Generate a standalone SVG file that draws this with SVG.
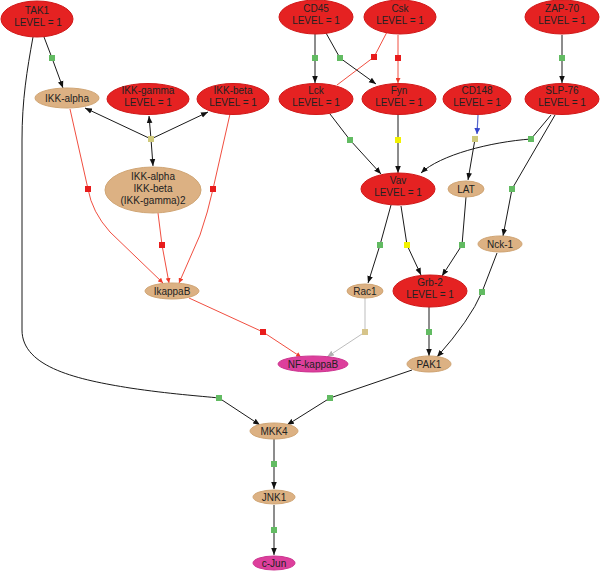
<svg xmlns="http://www.w3.org/2000/svg" width="600" height="571" viewBox="0 0 600 571">
<style>
.red{fill:#e52222;stroke:#d01818;stroke-width:1}
.tan{fill:#dcb183;stroke:#d0a574;stroke-width:1}
.mag{fill:#dd3f9c;stroke:#cc3590;stroke-width:1}
text{font-family:"Liberation Sans",Arial,sans-serif;font-size:10px;fill:#222;text-anchor:middle}
.e{fill:none;stroke:#1a1a1a;stroke-width:1}
.er{fill:none;stroke:#ee3a2a;stroke-width:0.9}
.eg{fill:none;stroke:#bdbdbd;stroke-width:1}
.eb{fill:none;stroke:#5566cc;stroke-width:1.2}
.sg{fill:#62bb62}
.sr{fill:#e81c1c}
.sy{fill:#f2f200}
.so{fill:#cfc97a}
.st{fill:#d6c48a}
</style>
<defs>
<marker id="ab" viewBox="0 0 10 10" refX="10" refY="5" markerWidth="7" markerHeight="7" orient="auto" markerUnits="userSpaceOnUse"><path d="M0,1 L10,5 L0,9 z" fill="#111"/></marker>
<marker id="ar" viewBox="0 0 10 10" refX="10" refY="5" markerWidth="5" markerHeight="5" orient="auto" markerUnits="userSpaceOnUse"><path d="M0,0 L10,5 L0,10 z" fill="#ee3a2a"/></marker>
<marker id="ag" viewBox="0 0 10 10" refX="10" refY="5" markerWidth="7" markerHeight="7" orient="auto" markerUnits="userSpaceOnUse"><path d="M0,1 L10,5 L0,9 z" fill="#b0b0b0"/></marker>
<marker id="abl" viewBox="0 0 10 10" refX="10" refY="5" markerWidth="6" markerHeight="6" orient="auto" markerUnits="userSpaceOnUse"><path d="M0,0 L10,5 L0,10 z" fill="#3344cc"/></marker>
</defs>
<g id="connectors">
<path class="e" d="M44,37 L52,58 L63,88" marker-end="url(#ab)"/>
<path class="e" d="M33,37 C27,70 22,100 22,140 L22,330 C22,368 80,380 130,388 C170,394 200,396 219,398 L260,425" marker-end="url(#ab)"/>
<path class="e" d="M151,139 L85,108" marker-end="url(#ab)"/>
<path class="e" d="M151,139 L149,116" marker-end="url(#ab)"/>
<path class="e" d="M151,139 L208,112" marker-end="url(#ab)"/>
<path class="e" d="M151,139 L153,166" marker-end="url(#ab)"/>
<path class="er" d="M70,109 L88,189 Q92,212 110,232 L163,283" marker-end="url(#ar)"/>
<path class="er" d="M158,213 L162,245 L169,283" marker-end="url(#ar)"/>
<path class="er" d="M230,114 L213,189 Q208,212 200,235 L179,283" marker-end="url(#ar)"/>
<path class="er" d="M189,298 L263,332 L301,357" marker-end="url(#ar)"/>
<path class="er" d="M387,32 L374,57 L337,85"/>
<path class="er" d="M398,35 L398,58 L398,83" marker-end="url(#ar)"/>
<path class="e" d="M315,34 L315,58 L315,83" marker-end="url(#ab)"/>
<path class="e" d="M326,33 L340,58 L376,84" marker-end="url(#ab)"/>
<path class="e" d="M562,35 L562,58 L562,83" marker-end="url(#ab)"/>
<path class="e" d="M330,114 L350,140 L381,174" marker-end="url(#ab)"/>
<path class="e" d="M398,114 L398,140 L398,173" marker-end="url(#ab)"/>
<path class="e" d="M551,115 L531,139 C490,142 440,155 421,173" marker-end="url(#ab)"/>
<path class="e" d="M555,115 L512,189 L503,236" marker-end="url(#ab)"/>
<path class="eb" d="M478,115 L477,134" marker-end="url(#abl)"/>
<path class="e" d="M475,139 L468,180" marker-end="url(#ab)"/>
<path class="e" d="M391,205 L380,245 L368,283" marker-end="url(#ab)"/>
<path class="e" d="M401,206 L407,245 L421,275" marker-end="url(#ab)"/>
<path class="e" d="M466,197 L462,245 L442,276" marker-end="url(#ab)"/>
<path class="e" d="M497,253 L482,292 Q470,320 437,357" marker-end="url(#ab)"/>
<path class="e" d="M429,307 L429,332 L429,356" marker-end="url(#ab)"/>
<path class="eg" d="M365,298 L365,332 L327,357" marker-end="url(#ag)"/>
<path class="e" d="M412,370 L330,398 L287,425" marker-end="url(#ab)"/>
<path class="e" d="M274,439 L274,464 L274,489" marker-end="url(#ab)"/>
<path class="e" d="M274,505 L274,530 L274,555" marker-end="url(#ab)"/>
<rect class="sg" x="49" y="55" width="6" height="6"/>
<rect class="sg" x="216" y="395" width="6" height="6"/>
<rect class="so" x="148" y="136" width="6" height="6"/>
<rect class="sr" x="85" y="186" width="6" height="6"/>
<rect class="sr" x="159" y="242" width="6" height="6"/>
<rect class="sr" x="210" y="186" width="6" height="6"/>
<rect class="sr" x="260" y="329" width="6" height="6"/>
<rect class="sr" x="371" y="54" width="6" height="6"/>
<rect class="sr" x="395" y="55" width="6" height="6"/>
<rect class="sg" x="312" y="55" width="6" height="6"/>
<rect class="sg" x="337" y="55" width="6" height="6"/>
<rect class="sg" x="559" y="55" width="6" height="6"/>
<rect class="sg" x="347" y="137" width="6" height="6"/>
<rect class="sy" x="395" y="137" width="6" height="6"/>
<rect class="sg" x="528" y="136" width="6" height="6"/>
<rect class="sg" x="509" y="186" width="6" height="6"/>
<rect class="so" x="472" y="136" width="6" height="6"/>
<rect class="sg" x="377" y="242" width="6" height="6"/>
<rect class="sy" x="404" y="242" width="6" height="6"/>
<rect class="sg" x="459" y="242" width="6" height="6"/>
<rect class="sg" x="479" y="289" width="6" height="6"/>
<rect class="sg" x="426" y="329" width="6" height="6"/>
<rect class="st" x="362" y="329" width="6" height="6"/>
<rect class="sg" x="327" y="395" width="6" height="6"/>
<rect class="sg" x="271" y="461" width="6" height="6"/>
<rect class="sg" x="271" y="527" width="6" height="6"/>
</g>
<g id="TAK1"><ellipse class="red" cx="37" cy="19" rx="36" ry="18"/><text x="37" y="14">TAK1</text><text x="38" y="26">LEVEL = 1</text></g>
<g id="CD45"><ellipse class="red" cx="316" cy="17" rx="37" ry="17"/><text x="316" y="12">CD45</text><text x="316" y="24">LEVEL = 1</text></g>
<g id="Csk"><ellipse class="red" cx="400" cy="17" rx="36" ry="17"/><text x="400" y="12">Csk</text><text x="400" y="24">LEVEL = 1</text></g>
<g id="ZAP-70"><ellipse class="red" cx="562" cy="17" rx="37" ry="17"/><text x="562" y="12">ZAP-70</text><text x="562" y="24">LEVEL = 1</text></g>
<g id="IKK-alpha"><ellipse class="tan" cx="67" cy="98" rx="32" ry="10"/><text x="67" y="101.5">IKK-alpha</text></g>
<g id="IKK-gamma"><ellipse class="red" cx="148" cy="99" rx="41" ry="15.5"/><text x="148" y="94">IKK-gamma</text><text x="148" y="106">LEVEL = 1</text></g>
<g id="IKK-beta"><ellipse class="red" cx="233" cy="99" rx="36" ry="15.5"/><text x="233" y="94">IKK-beta</text><text x="233" y="106">LEVEL = 1</text></g>
<g id="Lck"><ellipse class="red" cx="316" cy="99" rx="37" ry="15.5"/><text x="316" y="94">Lck</text><text x="316" y="106">LEVEL = 1</text></g>
<g id="Fyn"><ellipse class="red" cx="399" cy="99" rx="37" ry="15.5"/><text x="399" y="94">Fyn</text><text x="399" y="106">LEVEL = 1</text></g>
<g id="CD148"><ellipse class="red" cx="477" cy="99" rx="34" ry="15.5"/><text x="477" y="94">CD148</text><text x="477" y="106">LEVEL = 1</text></g>
<g id="SLP-76"><ellipse class="red" cx="562" cy="99" rx="37" ry="15.5"/><text x="562" y="94">SLP-76</text><text x="562" y="106">LEVEL = 1</text></g>
<g id="IKK-complex"><ellipse class="tan" cx="153" cy="190" rx="48" ry="23"/><text x="153" y="180">IKK-alpha</text><text x="153" y="192">IKK-beta</text><text x="153" y="204">(IKK-gamma)2</text></g>
<g id="Vav"><ellipse class="red" cx="398" cy="189" rx="37" ry="16"/><text x="398" y="184">Vav</text><text x="398" y="196">LEVEL = 1</text></g>
<g id="LAT"><ellipse class="tan" cx="466" cy="189" rx="18" ry="8"/><text x="466" y="192.5">LAT</text></g>
<g id="Nck-1"><ellipse class="tan" cx="500" cy="244" rx="22" ry="8"/><text x="500" y="247.5">Nck-1</text></g>
<g id="Rac1"><ellipse class="tan" cx="365" cy="291" rx="18" ry="7"/><text x="365" y="294.5">Rac1</text></g>
<g id="Grb-2"><ellipse class="red" cx="430" cy="291" rx="37" ry="16"/><text x="430" y="286">Grb-2</text><text x="430" y="298">LEVEL = 1</text></g>
<g id="IkappaB"><ellipse class="tan" cx="172" cy="291" rx="27" ry="8"/><text x="172" y="294.5">IkappaB</text></g>
<g id="NF-kappaB"><ellipse class="mag" cx="313" cy="364" rx="35" ry="8"/><text x="313" y="367.5">NF-kappaB</text></g>
<g id="PAK1"><ellipse class="tan" cx="429" cy="364" rx="22" ry="8"/><text x="429" y="367.5">PAK1</text></g>
<g id="MKK4"><ellipse class="tan" cx="274" cy="431" rx="24" ry="8"/><text x="274" y="434.5">MKK4</text></g>
<g id="JNK1"><ellipse class="tan" cx="274" cy="497" rx="21" ry="7"/><text x="274" y="500.5">JNK1</text></g>
<g id="c-Jun"><ellipse class="mag" cx="274" cy="563" rx="21" ry="7"/><text x="274" y="566.5">c-Jun</text></g>
</svg>
